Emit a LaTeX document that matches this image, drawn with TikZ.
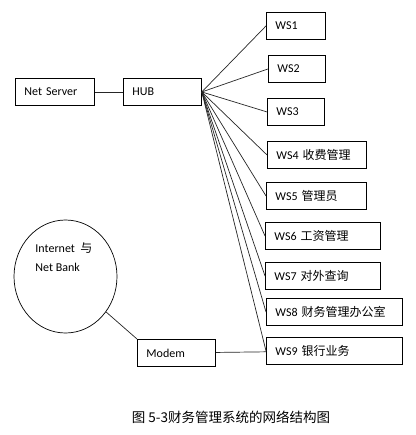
\documentclass[tikz,border=0pt]{standalone}
\usepackage{fontspec}
\setmainfont{Carlito}
\newfontfamily\cjk{Noto Sans CJK SC}
\usetikzlibrary{positioning,shapes.geometric}

\begin{document}
\begin{tikzpicture}[x=1pt,y=-1pt,font=\fontsize{12}{14}\selectfont,
  every node/.style={shape=rectangle,draw,line width=0.9pt,minimum height=27pt,inner xsep=9pt,anchor=north west,align=left},
  link/.style={line width=0.7pt,draw=black!85},
  plain/.style={draw=none,minimum height=0pt,inner sep=2pt}]
\useasboundingbox (0,0) rectangle (415,435);
\node[text width=61pt] (ns) at (15,78) {Net Server};
\node[text width=60pt] (hub) [right=28pt of ns.north east, anchor=north west] {HUB};
\node[text width=41pt] (ws1) at (266,12) {WS1};
\node[text width=39pt] (ws2) at (268,55) {WS2};
\node[text width=39pt] (ws3) at (267,98) {WS3};
\node[text width=81pt] (ws4) at (267,141) {WS4 {\cjk 收费管理}};
\node[text width=82pt] (ws5) at (266,182) {WS5 {\cjk 管理员}};
\node[text width=97pt] (ws6) at (265,222) {WS6 {\cjk 工资管理}};
\node[text width=97pt] (ws7) at (265,262) {WS7 {\cjk 对外查询}};
\node[text width=118pt] (ws8) at (266,298) {WS8 {\cjk 财务管理办公室}};
\node[text width=118pt] (ws9) at (266,337) {WS9 {\cjk 银行业务}};
\node[text width=60pt] (modem) at (137,339) {Modem};
\node[ellipse,minimum width=103pt,minimum height=113pt,inner sep=0pt,anchor=center,line width=0.7pt] (net) at (65.5,276.5) {};
\node[plain,font=\fontsize{12}{19}\selectfont] (nettxt) at (33,240) {Internet\ \ {\cjk 与}\\Net Bank};
\node[plain,anchor=center,font=\cjk\fontsize{13.5}{16}\selectfont] (caption) at (231,417) {图 5-3财务管理系统的网络结构图};

\draw[link] (ns) to (hub);
\foreach \w in {1,...,9}
  \draw[link] (hub.east) to (ws\w.west);
\draw[link] (net) to (modem.north west);
\draw[link] (modem) to (ws9);
\end{tikzpicture}
\end{document}
